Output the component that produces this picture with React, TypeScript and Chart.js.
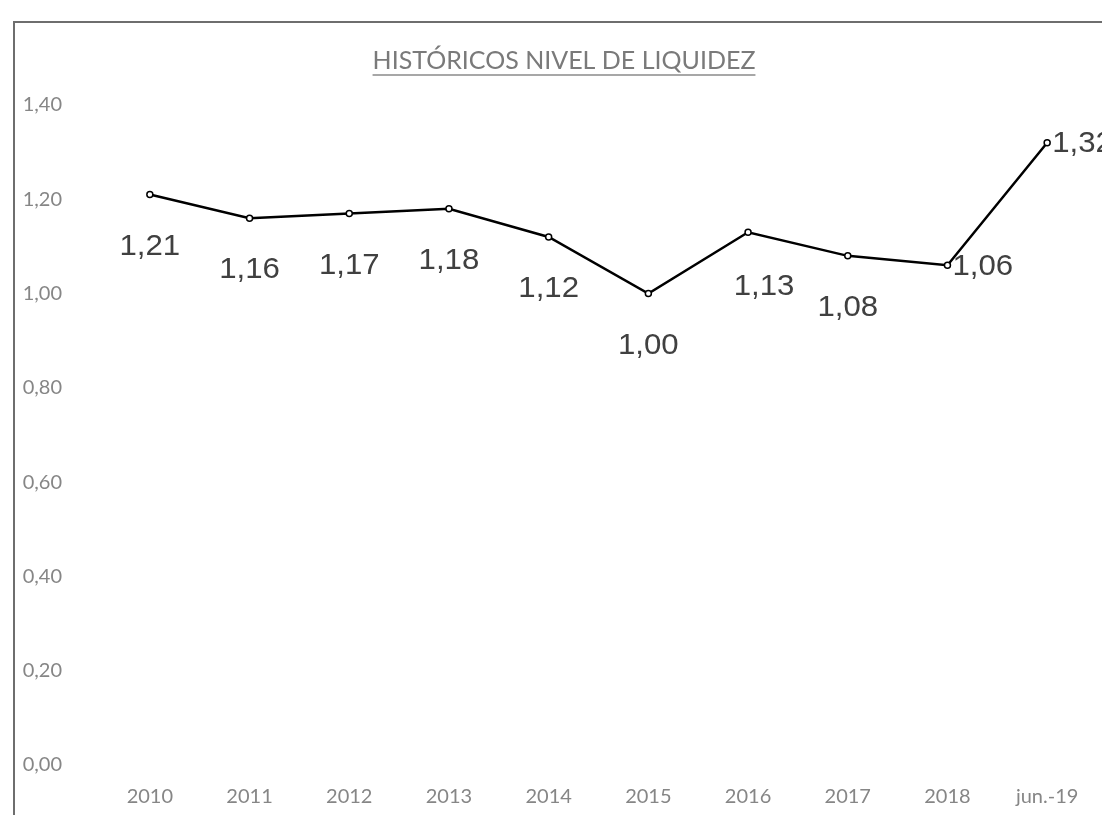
import React, { useEffect, useRef } from "react";
import { Chart, registerables } from "chart.js";

Chart.register(...registerables);

const TITLE = "HISTÓRICOS NIVEL DE LIQUIDEZ";
const categories = ["2010", "2011", "2012", "2013", "2014", "2015", "2016", "2017", "2018", "jun.-19"];
const liquidez = [1.21, 1.16, 1.17, 1.18, 1.12, 1.0, 1.13, 1.08, 1.06, 1.32];
const labelPos = ["below", "below", "below", "below", "below", "below", "belowRight", "below", "right", "right"];
const yMin = 0;
const yMax = 1.4;
const yStep = 0.2;

const fmt = (v: number) => v.toFixed(2).replace(".", ",");

const framePlugin = {
  id: "frame",
  beforeDraw(chart: any) {
    const ctx = chart.ctx;
    ctx.save();
    ctx.fillStyle = "#ffffff";
    ctx.fillRect(0, 0, chart.width, chart.height);
    ctx.strokeStyle = "#6e6e6e";
    ctx.lineWidth = 2;
    ctx.beginPath();
    ctx.moveTo(6, chart.height);
    ctx.lineTo(6, 14);
    ctx.lineTo(chart.width, 14);
    ctx.stroke();
    // title
    ctx.font = "25px Lato";
    ctx.fillStyle = "#7a7a7a";
    ctx.textAlign = "center";
    ctx.textBaseline = "middle";
    const cx = 556;
    const cy = 53;
    ctx.fillText(TITLE, cx, cy);
    const w = ctx.measureText(TITLE).width;
    ctx.strokeStyle = "#8a8a8a";
    ctx.lineWidth = 1.5;
    ctx.beginPath();
    ctx.moveTo(cx - w / 2, cy + 14);
    ctx.lineTo(cx + w / 2, cy + 14);
    ctx.stroke();
    ctx.restore();
  },
};

const labelPlugin = {
  id: "valueLabels",
  afterDatasetsDraw(chart: any) {
    const ctx = chart.ctx;
    const meta = chart.getDatasetMeta(0);
    ctx.save();
    ctx.font = "30px 'Liberation Sans'";
    ctx.fillStyle = "#404040";
    ctx.textBaseline = "middle";
    const sx = 1.04;
    const draw = (txt: string, x: number, y: number, align: string) => {
      ctx.save();
      ctx.translate(x, y);
      ctx.scale(sx, 1);
      ctx.textAlign = align;
      ctx.fillText(txt, 0, 0);
      ctx.restore();
    };
    meta.data.forEach((pt: any, i: number) => {
      const txt = fmt(liquidez[i]);
      const pos = labelPos[i];
      if (pos === "right") {
        draw(txt, pt.x + 5, pt.y + 1, "left");
      } else if (pos === "belowRight") {
        draw(txt, pt.x + 16, pt.y + 54, "center");
      } else {
        draw(txt, pt.x, pt.y + 52, "center");
      }
    });
    ctx.restore();
  },
};

export default function App() {
  const ref = useRef<HTMLCanvasElement>(null);
  useEffect(() => {
    if (!ref.current) return;
    const chart = new Chart(ref.current, {
      type: "line",
      data: {
        labels: categories,
        datasets: [
          {
            data: liquidez,
            borderColor: "#000000",
            borderWidth: 2.5,
            pointRadius: 3,
            pointBackgroundColor: "#ffffff",
            pointBorderColor: "#000000",
            pointBorderWidth: 1.5,
            tension: 0,
          },
        ],
      },
      options: {
        responsive: false,
        animation: false,
        layout: { padding: { top: 97, right: 13, bottom: 0, left: 0 } },
        plugins: {
          legend: { display: false },
          title: { display: false },
          tooltip: { enabled: false },
        },
        scales: {
          x: {
            offset: true,
            grid: { display: false, drawTicks: false },
            border: { display: false },
            ticks: { color: "#868686", font: { family: "Lato", size: 20 }, padding: 20, maxRotation: 0 },
            afterFit(scale: any) {
              scale.height = 45;
            },
          },
          y: {
            min: yMin,
            max: yMax,
            grid: { display: false, drawTicks: false },
            border: { display: false },
            ticks: {
              stepSize: yStep,
              color: "#868686",
              font: { family: "Lato", size: 20 },
              padding: 38,
              callback: (v: any) => fmt(Number(v)),
            },
            afterFit(scale: any) {
              scale.width = 92;
            },
          },
        },
      },
      plugins: [framePlugin, labelPlugin],
    });
    return () => chart.destroy();
  }, []);
  return (
    <div style={{ width: 1102, height: 807 }}>
      <canvas ref={ref} width={1102} height={807} style={{ display: "block" }} />
    </div>
  );
}
